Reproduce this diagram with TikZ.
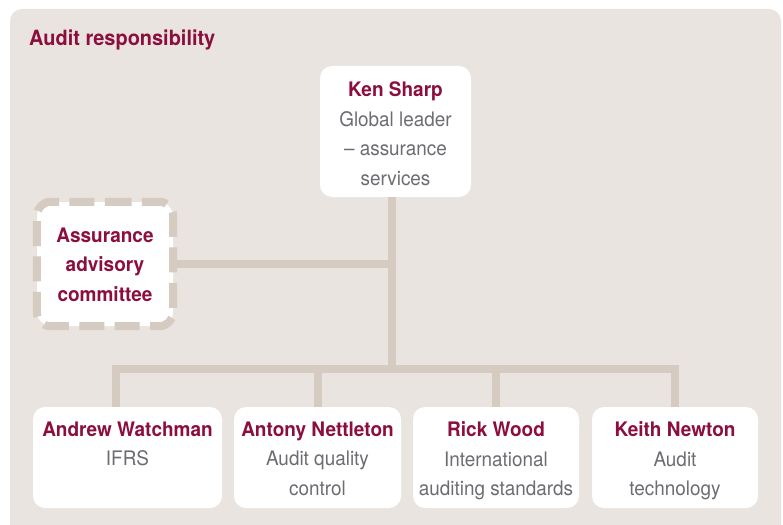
\documentclass[tikz,border=0pt]{standalone}
\usepackage{fontspec}
\setmainfont{TeX Gyre Heros}
\newfontfamily\regfont{TeX Gyre Heros}[FakeStretch=0.945]
\newfontfamily\boldfont{TeX Gyre Heros}[FakeStretch=0.95]
\usetikzlibrary{calc}
\definecolor{panelc}{RGB}{233,228,223}
\definecolor{linec}{RGB}{213,203,192}
\definecolor{namec}{RGB}{139,14,62}
\definecolor{greyc}{RGB}{108,109,114}
\tikzset{
  card/.style={fill=white, rounded corners=12pt, inner sep=0pt},
  conn/.style={draw=linec, line width=8pt},
  txt/.style={align=center, inner sep=0pt, anchor=north, text=greyc,
    font=\regfont\fontsize{20}{29.5}\selectfont},
}
\newcommand{\nm}[1]{{\boldfont\bfseries\color{namec}#1}}
\begin{document}
\begin{tikzpicture}[x=1pt,y=-1pt]
\path[use as bounding box] (0,0) rectangle (783,524);
\fill[panelc, rounded corners=12pt] (10,9) rectangle (781,540);
\node[anchor=base west, inner sep=0pt, text=namec, font=\boldfont\bfseries\fontsize{21}{25}\selectfont] (title) at (29,46) {Audit responsibility};
% cards
\node[card, minimum width=151pt, minimum height=131pt] (ken) at (395.5,131.5) {};
\node[card, minimum width=189pt, minimum height=101pt] (b1) at (127.5,457.5) {};
\node[card, minimum width=167pt, minimum height=101pt] (b2) at (317.5,457.5) {};
\node[card, minimum width=166pt, minimum height=101pt] (b3) at (496,457.5) {};
\node[card, minimum width=166pt, minimum height=101pt] (b4) at (675,457.5) {};
\node[card, fill=white, minimum width=136pt, minimum height=124pt, rounded corners=14pt] (com) at (105,264) {};
% connectors
\coordinate (j1) at (391.5,264);
\coordinate (j2) at (391.5,369);
\coordinate (hl) at (116,369);
\coordinate (hr) at (675,369);
\draw[conn] (ken.south -| j1) -- (j2);
\draw[conn] (com.east) -- (j1);
\draw[conn, line cap=rect] (hl) -- (hr);
\draw[conn] (hl) -- (hl |- b1.north);
\draw[conn] (b2.north |- hl) -- (b2.north);
\draw[conn] (b3.north |- hl) -- (b3.north);
\draw[conn] (hr) -- (b4.north);
% dashed border of committee
\draw[draw=linec, line width=8pt, dash pattern=on 25pt off 10.4pt, dash phase=12.5pt, rounded corners=14pt]
  (com.north) -- (com.north east) -- (com.south east) -- (com.south west) -- (com.north west) -- cycle;
% texts
\node[txt] (kent) at (395.5,81.5) {\nm{Ken Sharp}\\Global leader\\– assurance\\services};
\node[txt] (comt) at (105,227.5) {\nm{Assurance}\\\nm{advisory}\\\nm{committee}};
\node[txt] (b1t) at (127.5,421.5) {\nm{Andrew Watchman}\\IFRS};
\node[txt] (b2t) at (317.5,421.5) {\nm{Antony Nettleton}\\Audit quality\\control};
\node[txt] (b3t) at (496,421.5) {\nm{Rick Wood}\\International\\auditing standards};
\node[txt] (b4t) at (675,421.5) {\nm{Keith Newton}\\Audit\\technology};
\end{tikzpicture}
\end{document}
